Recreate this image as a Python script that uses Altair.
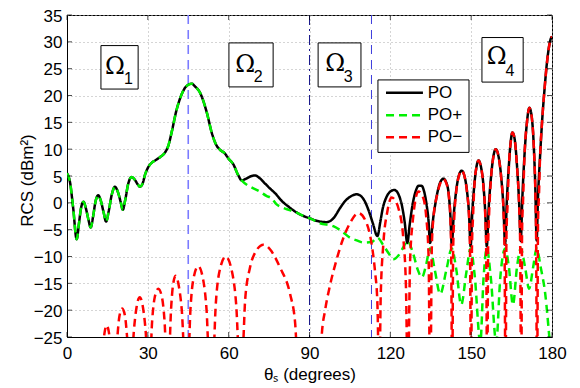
import altair as alt
import pandas as pd

# ---------------- data ----------------
po_x = [0, 1.1, 2.3, 3.6, 4.4, 5.2, 6.1, 7.0, 7.9, 8.8, 9.7, 10.6, 11.6, 12.6, 13.6, 14.5,
        15.5, 16.6, 17.8, 18.9, 19.9, 20.7, 21.6, 22.7, 24.0, 25.3, 26.3, 27.1, 28.0, 29.0,
        30.2, 31.5, 32.7, 34.5, 36.4, 37.5, 39.0, 40.5, 42.0, 43.5, 45.0, 46.3, 47.5, 49.4,
        51.9, 53.7, 55.6, 57.0, 58.6, 60.0, 61.7, 63.6, 64.8, 66.5, 68.5, 69.8, 71.5, 73.5,
        75.5, 77.2, 80.0, 82.2, 84.6, 87.5, 90.2, 93.0, 96.4, 99.0, 101.3, 103.0, 105.0,
        107.5, 109.0, 110.5, 112.0, 113.5, 115.2, 116.3, 117.2, 118.5, 120.0, 121.5, 123.0,
        124.3, 125.3, 126.3, 127.2, 128.2, 129.3, 130.6, 131.5, 132.6, 133.5, 134.2, 134.7,
        136.0, 137.3, 138.5, 139.7, 140.9, 141.8, 142.3, 142.8,
        143.5, 144.5, 145.5, 146.5, 147.5, 148.5, 149.2, 149.8,
        150.4, 151.2, 152.0, 152.7, 153.6, 154.6, 155.2, 155.8,
        156.5, 157.4, 158.3, 159.1, 160.1, 161.2, 162.0, 162.6,
        163.2, 164.0, 164.7, 165.3, 166.1, 167.0, 167.8, 168.4,
        169.0, 169.8, 170.7, 171.6, 172.4, 173.2, 173.8, 174.3,
        174.8, 175.5, 176.3, 177.2, 178.0, 178.8, 179.5, 180.0]
po_y = [5.5, 3.9, -1.0, -6.8, -4.0, -1.0, 0.2, -1.0, -3.0, -4.6, -2.5, 0.3, 1.4, 0.3, -1.8, -3.5,
        -1.5, 1.5, 3.0, 2.0, 0.2, -1.3, 0.5, 3.5, 4.8, 4.2, 3.4, 3.0, 3.5, 5.3,
        6.7, 7.5, 7.9, 8.5, 9.4, 10.5, 13.5, 17.0, 19.5, 21.2, 22.0, 22.2, 21.7, 20.5,
        16.8, 13.1, 10.6, 9.8, 9.2, 8.2, 7.2, 5.1, 4.2, 4.5, 5.0, 5.1, 4.6, 3.6,
        2.6, 1.8, 0.2, -0.7, -1.6, -2.4, -2.9, -3.4, -3.6, -2.8, -1.0, 0.2, 1.1,
        1.6, 1.3, 0.3, -1.5, -3.8, -6.2, -3.5, -1.0, 1.0, 2.1, 2.4, 1.6,
        -0.5, -3.5, -7.5, -4.0, -0.5, 2.0, 3.2, 3.2, 2.0, -0.5, -3.5, -7.5,
        -2.5, 1.5, 3.8, 4.5, 3.6, 1.0, -2.5, -7.8,
        -2.5, 2.5, 5.2, 6.0, 5.0, 2.0, -2.0, -8.1,
        -2.0, 3.5, 6.8, 7.9, 6.8, 3.0, -1.5, -8.1,
        -1.0, 5.0, 8.8, 10.0, 8.8, 4.5, -1.0, -7.8,
        0.0, 7.0, 11.5, 13.1, 12.0, 7.0, 0.0, -7.1,
        1.0, 9.0, 15.0, 17.7, 16.3, 11.0, 3.0, -7.0,
        1.0, 8.0, 15.0, 21.0, 25.5, 28.8, 30.5, 31.0]

pop_x = [0, 1.1, 2.3, 3.6, 4.4, 5.2, 6.1, 7.0, 7.9, 8.8, 9.7, 10.6, 11.6, 12.6, 13.6, 14.5,
         15.5, 16.6, 17.8, 18.9, 19.9, 20.7, 21.6, 22.7, 24.0, 25.3, 26.3, 27.1, 28.0, 29.0,
         30.2, 31.5, 32.7, 34.5, 36.4, 37.5, 39.0, 40.5, 42.0, 43.5, 45.0, 46.3, 47.5, 49.4,
         51.9, 53.7, 55.6, 57.0, 58.6, 60.0, 61.7, 63.6, 64.8, 66.1, 68.0, 71.6, 74.0, 76.0,
         77.8, 80.0, 82.2, 84.6, 87.5, 90.2, 93.9, 99.0, 102.0, 105.0, 107.5, 110.0, 113.0,
         115.2, 117.5, 119.5, 121.1, 123.0, 124.8, 126.3, 128.5, 130.2, 131.7, 133.3, 134.7,
         136.5, 138.5, 140.8, 142.8, 144.5, 146.3, 148.2, 149.8, 151.3, 153.4, 154.6, 155.8,
         157.3, 159.3, 160.8, 162.6, 164.0, 165.5, 167.0, 168.4, 170.0, 171.5, 173.0, 174.3,
         175.8, 177.5, 179.2, 180.0]
pop_y = [5.5, 3.9, -1.0, -6.8, -4.0, -1.0, 0.2, -1.0, -3.0, -4.6, -2.5, 0.3, 1.4, 0.3, -1.8, -3.5,
         -1.5, 1.5, 3.0, 2.0, 0.2, -1.3, 0.5, 3.5, 4.8, 4.2, 3.4, 3.0, 3.5, 5.3,
         6.7, 7.5, 7.9, 8.5, 9.4, 10.5, 13.5, 17.0, 19.5, 21.2, 22.0, 22.2, 21.7, 20.5,
         16.8, 13.1, 10.6, 9.8, 9.2, 8.2, 7.2, 5.1, 4.2, 3.6, 3.0, 2.1, 1.3, 0.8,
         -0.3, -0.9, -1.3, -1.7, -2.4, -2.9, -3.8, -4.4, -5.3, -6.5, -7.0, -7.4, -7.3,
         -6.5, -8.0, -9.5, -10.5, -9.8, -8.3, -7.1, -9.5, -12.5, -13.9, -11.5, -8.5,
         -12.5, -17.0, -12.5, -8.5, -12.5, -19.0, -13.0, -8.5, -13.5, -26.0, -14.0, -8.5,
         -14.0, -26.0, -14.0, -8.5, -12.0, -19.0, -12.0, -8.5, -12.0, -16.0, -12.0, -8.5,
         -12.0, -17.0, -26.0, -30.0]

pom_x = [12.5, 13.3, 14.0, 14.7, 15.5, 16.2, 16.9,
         17.9, 18.7, 19.5, 20.5, 21.5, 22.3, 23.2,
         23.8, 24.8, 25.8, 27.0, 28.2, 29.2, 30.2,
         30.6, 31.6, 32.6, 33.9, 35.2, 36.2, 37.2,
         37.6, 38.6, 39.3, 40.3, 41.5, 42.6, 44.0,
         44.8, 45.8, 46.8, 48.7, 50.6, 51.8, 53.0,
         54.0, 55.2, 56.5, 58.9, 61.3, 62.8, 64.2,
         64.9, 65.6, 66.1, 67.9, 69.8, 72.9, 75.4, 79.0, 82.8, 84.6, 86.0,
         93.8, 94.5, 95.8, 97.6, 100.1, 102.6, 105.0, 108.1, 111.2, 113.1, 114.3, 115.2, 115.8,
         116.0, 116.4, 117.4, 118.9, 120.5, 122.0, 123.0, 124.8, 125.8, 126.4,
         126.6, 127.3, 128.3, 130.4, 132.3, 133.3, 134.2, 134.7,
         134.9, 135.4, 136.0, 137.3, 138.5, 139.7, 140.9, 141.8, 142.3, 142.6, 142.9,
         143.0, 143.3, 143.7, 144.5, 145.5, 146.5, 147.5, 148.5, 149.2, 149.6, 149.9,
         150.0, 150.3, 150.7, 151.2, 152.0, 152.7, 153.6, 154.6, 155.2, 155.6, 155.9,
         156.0, 156.3, 156.7, 157.4, 158.3, 159.1, 160.1, 161.2, 162.0, 162.4, 162.7,
         162.8, 163.1, 163.5, 164.0, 164.7, 165.3, 166.1, 167.0, 167.8, 168.2, 168.5,
         168.6, 168.9, 169.3, 169.8, 170.7, 171.6, 172.4, 173.2, 173.8, 174.1, 174.4,
         174.5, 174.8, 175.2, 175.5, 176.3, 177.2, 178.0, 178.8, 179.5, 180.0]
pom_y = [-32, -27, -24, -22.8, -24, -27, -32,
         -32, -25, -21, -19.7, -21, -25, -32,
         -32, -24, -19.5, -17.6, -19.5, -24, -32,
         -32, -22, -17.5, -16, -17.5, -22, -32,
         -32, -20, -15.5, -13.6, -15.5, -20, -32,
         -32, -20, -14.5, -11.8, -14.5, -20, -32,
         -32, -19, -13, -10, -13, -19, -32,
         -32, -24, -18.2, -12.1, -9.3, -7.8, -8.7, -12, -17, -22, -32,
         -32, -25, -20, -15.4, -10.5, -6.5, -3.8, -1.9, -3.8, -7.8, -12.7, -18.7, -32,
         -32, -18, -7.7, -1.6, 1.0, 0.3, -1.0, -6.5, -15.7, -32,
         -32, -11.4, -3.5, 2.1, 0.8, -2.5, -10, -32,
         -32, -8, -2.8, 1.3, 3.6, 4.4, 3.5, 0.8, -3, -10, -32,
         -32, -9, -3, 2.3, 5.1, 6.0, 5.0, 1.8, -2.5, -10, -32,
         -32, -8, -2.5, 3.3, 6.7, 7.9, 6.8, 2.8, -2, -10, -32,
         -32, -8, -1.5, 4.8, 8.7, 10, 8.8, 4.3, -1.5, -9, -32,
         -32, -6, -0.5, 6.8, 11.4, 13.1, 12, 6.8, -0.5, -8, -32,
         -32, -5, 1, 8.8, 15, 17.7, 16.3, 11, 2.5, -6, -32,
         -32, -4, 2, 7.5, 15, 21, 25.5, 28.8, 30.5, 31]

series_names = ["PO", "PO+", "PO\u2212"]
series_colors = ["#000000", "#00f000", "#ff0000"]
series_dash = [[1, 0], [8, 5], [8, 5]]

x_ticks = [0, 30, 60, 90, 120, 150, 180]
y_ticks = [-25, -20, -15, -10, -5, 0, 5, 10, 15, 20, 25, 30, 35]

region_lines = [45, 90, 113]

labels_txt = ["\u03a9", "\u03a9", "\u03a9", "\u03a9"]
labels_sub = ["1", "2", "3", "4"]
box_x1 = [12.6, 60.1, 93.2, 154.0]
box_x2 = [26.4, 76.5, 109.1, 169.3]
box_y1 = [21.2, 21.6, 21.6, 22.5]
box_y2 = [29.3, 29.8, 29.8, 30.8]
om_x = [17.8, 66.1, 99.5, 159.5]
om_y = [25.4, 25.7, 25.9, 27.2]
sub_x = [22.8, 71.0, 104.4, 164.4]
sub_y = [23.0, 23.5, 23.4, 24.5]

# legend placement (data units)
leg_box = [115.4, 149.2, 9.4, 22.9]
leg_line_x = [118.4, 132.1]
leg_text_x = 133.9
leg_row_y = [20.5, 16.3, 12.2]

# ---------------- chart ----------------
W, H = 485, 322
xs = alt.Scale(domain=[0, 180], nice=False, zero=False)
ys = alt.Scale(domain=[-25, 35], nice=False, zero=False)
cscale = alt.Scale(domain=series_names, range=series_colors)
dscale = alt.Scale(domain=series_names, range=series_dash)

xaxis = alt.Axis(values=x_ticks, title="\u03b8\u209b (degrees)",
                 grid=True, ticks=False, labelPadding=8, titlePadding=5,
                 labelFlush=False, labelOverlap=False)
yaxis = alt.Axis(values=y_ticks, title="RCS (dBm\u00b2)",
                 grid=True, ticks=False, labelPadding=5, labelOffset=1,
                 titleX=-40, titleY=H / 2 + 4, titleBaseline="middle", titleAlign="center",
                 titleAngle=270, labelFlush=False, labelOverlap=False)


def X(f):
    return alt.X(f, scale=xs, axis=xaxis)


def Y(f):
    return alt.Y(f, scale=ys, axis=yaxis)


def series_df(name, xv, yv):
    return pd.DataFrame({"theta": xv, "rcs": yv, "series": name})


def line_layer(df, width):
    return alt.Chart(df).mark_line(clip=True, strokeWidth=width, interpolate="monotone").encode(
        x=X("theta:Q"),
        y=Y("rcs:Q"),
        color=alt.Color("series:N", scale=cscale, legend=None),
        strokeDash=alt.StrokeDash("series:N", scale=dscale, legend=None),
    )


rule_df = pd.DataFrame({"theta": region_lines})
rule45 = alt.Chart(rule_df.iloc[[0]]).mark_rule(color="#7b7bff", strokeWidth=1.6,
                                                 strokeDash=[9, 6]).encode(x=X("theta:Q"))
rule90 = alt.Chart(rule_df.iloc[[1]]).mark_rule(color="#1a1a8c", strokeWidth=1,
                                                 strokeDash=[10, 4, 2, 4]).encode(x=X("theta:Q"))
rule113 = alt.Chart(rule_df.iloc[[2]]).mark_rule(color="#3c3cdc", strokeWidth=1,
                                                  strokeDash=[9, 6]).encode(x=X("theta:Q"))

# inward ticks on all four sides
xt = pd.DataFrame({"v": x_ticks})
yt = pd.DataFrame({"v": y_ticks})
tick_bottom = alt.Chart(xt).mark_tick(color="black", size=5, thickness=1, orient="vertical").encode(
    x=X("v:Q"), y=alt.value(H - 2.5))
tick_top = alt.Chart(xt).mark_tick(color="black", size=5, thickness=1, orient="vertical").encode(
    x=X("v:Q"), y=alt.value(2.5))
tick_left = alt.Chart(yt).mark_tick(color="black", size=5, thickness=1, orient="horizontal").encode(
    y=Y("v:Q"), x=alt.value(2.5))
tick_right = alt.Chart(yt).mark_tick(color="black", size=5, thickness=1, orient="horizontal").encode(
    y=Y("v:Q"), x=alt.value(W - 2.5))

ann = pd.DataFrame({"x1": box_x1, "x2": box_x2, "y1": box_y1, "y2": box_y2,
                    "ox": om_x, "oy": om_y, "sx": sub_x, "sy": sub_y,
                    "t": labels_txt, "s": labels_sub})
boxes = alt.Chart(ann).mark_rect(fill="white", stroke="black", strokeWidth=1).encode(
    x=X("x1:Q"), x2="x2:Q", y=Y("y1:Q"), y2="y2:Q")
omegas = alt.Chart(ann).mark_text(font="DejaVu Serif", fontSize=24, baseline="middle",
                                  align="center", color="black").encode(
    x=X("ox:Q"), y=Y("oy:Q"), text="t:N")
subs = alt.Chart(ann).mark_text(font="Liberation Sans", fontSize=16, baseline="middle",
                                align="center", color="black").encode(
    x=X("sx:Q"), y=Y("sy:Q"), text="s:N")

# manual legend (box, sample lines, labels)
leg_df = pd.DataFrame({"series": series_names, "ly": leg_row_y,
                       "lx1": leg_line_x[0], "lx2": leg_line_x[1], "tx": leg_text_x})
leg_rect = alt.Chart(pd.DataFrame({"a": [leg_box[0]], "b": [leg_box[1]],
                                   "c": [leg_box[2]], "d": [leg_box[3]]})).mark_rect(
    fill="white", stroke="black", strokeWidth=1).encode(
    x=X("a:Q"), x2="b:Q", y=Y("c:Q"), y2="d:Q")
leg_lines = alt.Chart(leg_df).mark_rule(strokeWidth=2.5).encode(
    x=X("lx1:Q"), x2="lx2:Q", y=Y("ly:Q"),
    color=alt.Color("series:N", scale=cscale, legend=None),
    strokeDash=alt.StrokeDash("series:N", scale=dscale, legend=None))
leg_text = alt.Chart(leg_df).mark_text(font="Liberation Sans", fontSize=17, align="left",
                                       baseline="middle", color="black").encode(
    x=X("tx:Q"), y=Y("ly:Q"), text="series:N")

chart = alt.layer(
    rule45, rule90, rule113,
    line_layer(series_df(series_names[0], po_x, po_y), 2.5),
    line_layer(series_df(series_names[1], pop_x, pop_y), 2.5),
    line_layer(series_df(series_names[2], pom_x, pom_y), 2.5),
    tick_bottom, tick_top, tick_left, tick_right,
    boxes, omegas, subs, leg_rect, leg_lines, leg_text,
).properties(
    width=W, height=H,
    padding={"left": 59, "top": 7, "right": 20, "bottom": 50},
    autosize=alt.AutoSizeParams(type="none"),
).configure_view(stroke="black", strokeWidth=1).configure_axis(
    labelFont="Liberation Sans", titleFont="Liberation Sans", labelFontSize=17,
    titleFontSize=17, titleFontWeight="normal", labelColor="black", titleColor="black",
    domainColor="black", gridColor="#aaaaaa", gridDash=[1, 3], gridWidth=1,
)

chart.save("out.html", embed_options={"renderer": "svg", "actions": False})
